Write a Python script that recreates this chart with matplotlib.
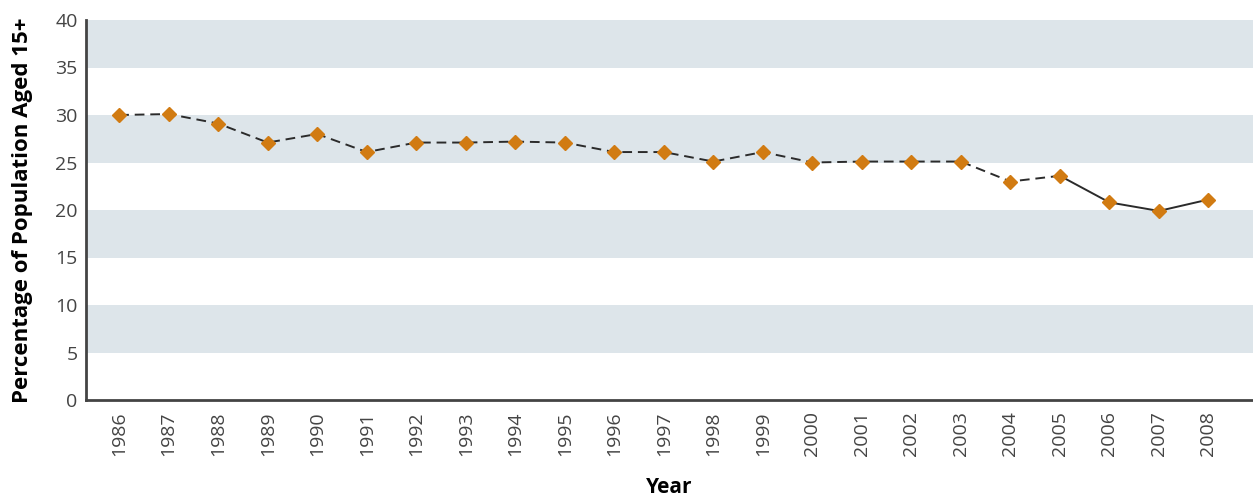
import matplotlib.pyplot as plt

plt.rcParams['font.family'] = ['Open Sans', 'DejaVu Sans']

years = list(range(1986, 2009))
rates = [30.0, 30.1, 29.1, 27.1, 28.0, 26.1, 27.1, 27.1, 27.2, 27.1, 26.1, 26.1,
         25.1, 26.1, 25.0, 25.1, 25.1, 25.1, 23.0, 23.6, 20.8, 19.9, 21.1]
bands = [(5, 10), (15, 20), (25, 30), (35, 40)]
split_year = 2005  # dashed up to here, solid after

fig = plt.figure(figsize=(12.53, 4.96), dpi=100)
ax = fig.add_axes([86 / 1253, 1 - 400 / 496, 1 - 86 / 1253, 380 / 496])

for lo, hi in bands:
    ax.axhspan(lo, hi, color='#dde5ea', lw=0, zorder=0)

k = years.index(split_year)
ax.plot(years[:k + 1], rates[:k + 1], color='#2b2b2b', lw=1.4, ls=(0, (5, 3)), zorder=2)
ax.plot(years[k:], rates[k:], color='#2b2b2b', lw=1.4, zorder=2)
ax.plot(years, rates, ls='none', marker='D', ms=7, color='#d17b12', zorder=3)

ax.set_xlim(1985.33, 2008.9)
ax.set_ylim(0, 40)
ax.set_yticks(range(0, 41, 5))
ax.set_xticks(years)
ax.set_xticklabels([str(y) for y in years], rotation=90)
ax.tick_params(length=0, labelsize=14, colors='#444444')
ax.tick_params(axis='x', pad=8)
ax.tick_params(axis='y', pad=6)

for s in ['top', 'right']:
    ax.spines[s].set_visible(False)
for s in ['left', 'bottom']:
    ax.spines[s].set_color('#444444')
    ax.spines[s].set_linewidth(2)

ax.set_xlabel('Year', fontsize=15, fontweight='bold', labelpad=15)
ax.set_ylabel('Percentage of Population Aged 15+', fontsize=16, fontweight='bold', labelpad=16)

fig.savefig('out.png', dpi=100)
